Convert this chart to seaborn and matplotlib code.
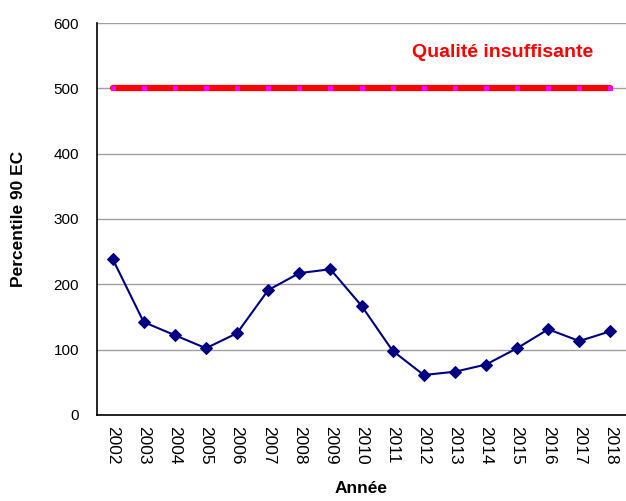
import numpy as np
import pandas as pd
import matplotlib
matplotlib.use('Agg')
import matplotlib.pyplot as plt
import seaborn as sns

annees = [str(a) for a in range(2002, 2019)]
p90 = [239, 142, 122, 102, 125, 191, 217, 223, 167, 98, 61, 66, 77, 102, 131, 113, 128]
seuil = [500] * len(annees)

df = pd.DataFrame({'annee': annees, 'p90': p90, 'seuil': seuil})
df['pos'] = np.arange(len(df))

sns.set_style('white')
plt.rcParams['font.family'] = ['Liberation Sans', 'DejaVu Sans']
plt.rcParams['text.color'] = 'black'
plt.rcParams['axes.labelcolor'] = 'black'

fig = plt.figure(figsize=(6.26, 5.01), dpi=100)
ax = fig.add_axes([0.155, 0.172, 0.845, 0.782])

sns.lineplot(data=df, x='pos', y='seuil', ax=ax, color='#FF0000', linewidth=4.5,
             marker='s', markersize=2.5, markerfacecolor='#FF00FF', markeredgecolor='#FF00FF',
             zorder=3)
sns.lineplot(data=df, x='pos', y='p90', ax=ax, color='#000080', linewidth=1.5,
             marker='D', markersize=6, markerfacecolor='#000080', markeredgecolor='#000080',
             zorder=4)

ax.text(12.55, 555, 'Qualité insuffisante', color='#FF0000', fontsize=14,
        fontweight='bold', ha='center', va='center')

ax.set_xlim(-0.5, len(annees) - 0.5)
ax.set_ylim(0, 600)
ax.set_yticks(range(0, 601, 100))
ax.yaxis.grid(True, color='#A0A0A0', linewidth=1)
ax.set_axisbelow(True)

ax.set_xticks(df['pos'])
ax.set_xticklabels(annees, rotation=270, fontsize=12.5)
ax.tick_params(axis='x', which='major', length=0, pad=8, labelcolor='black')
ax.set_xticks(np.arange(-0.5, len(annees), 1), minor=True)
ax.tick_params(axis='x', which='minor', length=5, color='#808080', direction='out')
ax.tick_params(axis='y', length=5, color='#808080', labelsize=11, direction='out',
               labelcolor='black', pad=8)

for s in ['top', 'right']:
    ax.spines[s].set_visible(False)
for s in ['left', 'bottom']:
    ax.spines[s].set_color('black')
    ax.spines[s].set_linewidth(1.2)

ax.set_xlabel('Année', fontsize=12.5, fontweight='bold', labelpad=12)
ax.set_ylabel('Percentile 90 EC', fontsize=12.5, fontweight='bold', labelpad=20)

fig.savefig('out.png', dpi=100)
